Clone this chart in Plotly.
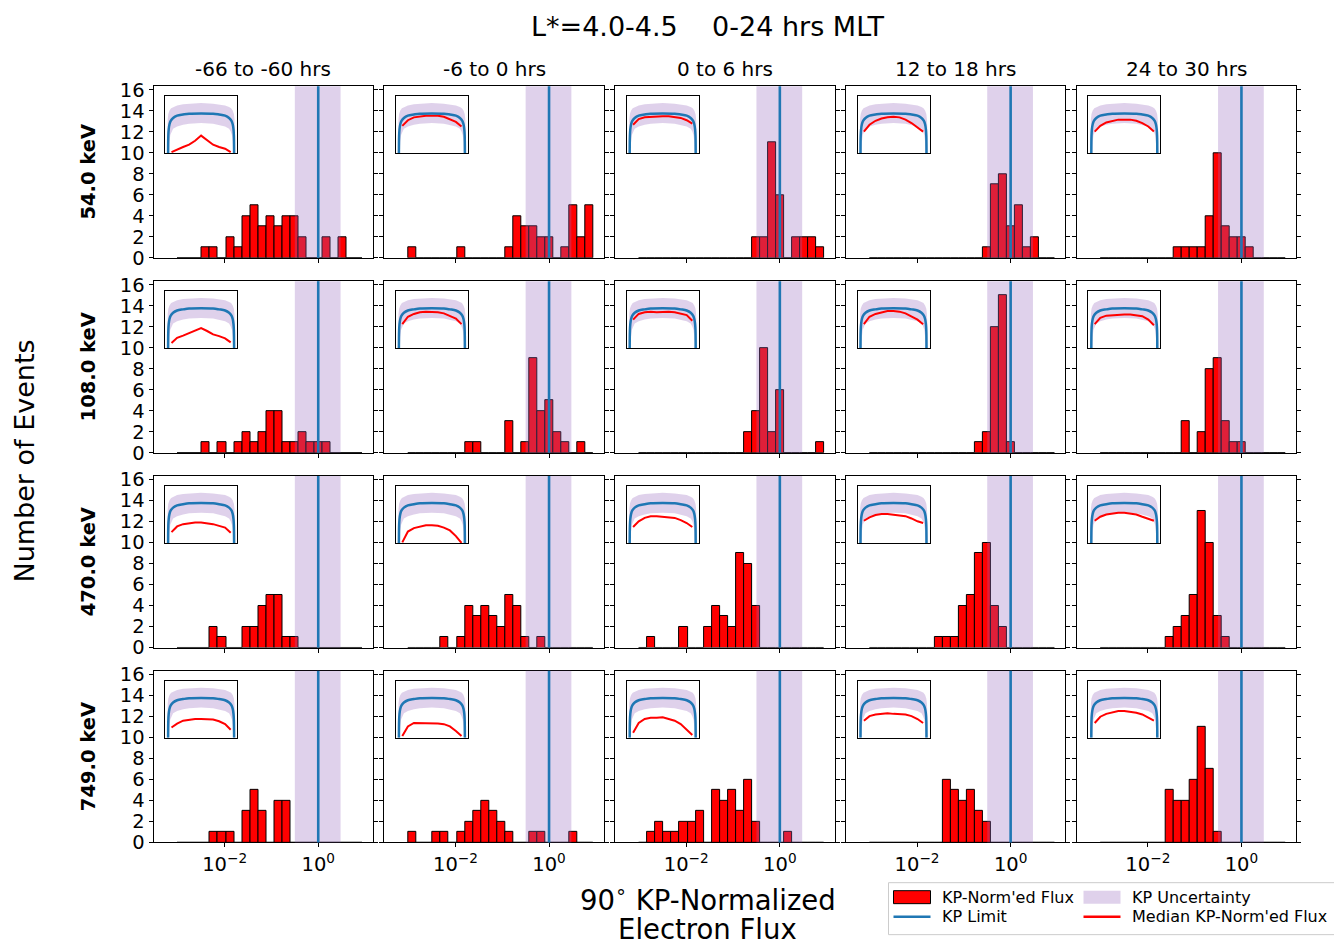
import numpy as np
import plotly.graph_objects as go

W, H = 1342, 943
FONT = "DejaVu Sans"

fig_title = "L*=4.0-4.5    0-24 hrs MLT"
col_titles = ["-66 to -60 hrs", "-6 to 0 hrs", "0 to 6 hrs", "12 to 18 hrs", "24 to 30 hrs"]
row_labels = ["54.0 keV", "108.0 keV", "470.0 keV", "749.0 keV"]
y_label = "Number of Events"
x_label_lines = ["90<sup>∘</sup> KP-Normalized", "Electron Flux"]
legend_labels = ["KP-Norm'ed Flux", "KP Limit", "KP Uncertainty", "Median KP-Norm'ed Flux"]

# histogram bins of KP-normalized flux
flux_bin_edges = np.logspace(-3.0, 0.947, 24)

kp_limit = 1.0
kp_unc_lo = 0.316
kp_unc_hi = 3.0

x_tick_vals = [0.01, 1.0]
x_tick_text = ["10<sup>−2</sup>", "10<sup>0</sup>"]
y_tick_vals = [0, 2, 4, 6, 8, 10, 12, 14, 16]

counts_54keV = [
    [0, 0, 0, 1, 1, 0, 2, 1, 4, 5, 3, 4, 3, 4, 4, 2, 0, 0, 2, 0, 2, 0, 0],
    [1, 0, 0, 0, 0, 0, 1, 0, 0, 0, 0, 0, 1, 4, 3, 3, 2, 2, 0, 1, 5, 2, 5],
    [0, 0, 0, 0, 0, 0, 0, 0, 0, 0, 0, 0, 0, 0, 2, 2, 11, 6, 0, 2, 2, 2, 1],
    [0, 0, 0, 0, 0, 0, 0, 0, 0, 0, 0, 0, 0, 0, 1, 7, 8, 3, 5, 1, 2, 0, 0],
    [0, 0, 0, 0, 0, 0, 0, 0, 0, 1, 1, 1, 1, 4, 10, 3, 2, 2, 1, 0, 0, 0, 0],
]
counts_108keV = [
    [0, 0, 0, 1, 0, 1, 0, 1, 2, 1, 2, 4, 4, 1, 1, 2, 1, 1, 1, 0, 0, 0, 0],
    [0, 0, 0, 0, 0, 0, 0, 1, 1, 0, 0, 0, 3, 0, 1, 9, 4, 5, 2, 1, 0, 1, 0],
    [0, 0, 0, 0, 0, 0, 0, 0, 0, 0, 0, 0, 0, 2, 4, 10, 2, 6, 0, 0, 0, 0, 1],
    [0, 0, 0, 0, 0, 0, 0, 0, 0, 0, 0, 0, 0, 1, 2, 12, 15, 1, 0, 0, 0, 0, 0],
    [0, 0, 0, 0, 0, 0, 0, 0, 0, 0, 3, 0, 2, 8, 9, 3, 1, 1, 0, 0, 0, 0, 0],
]
counts_470keV = [
    [0, 0, 0, 0, 2, 1, 0, 0, 2, 2, 4, 5, 5, 1, 1, 0, 0, 0, 0, 0, 0, 0, 0],
    [0, 0, 0, 0, 1, 0, 1, 4, 3, 4, 3, 2, 5, 4, 1, 0, 1, 0, 0, 0, 0, 0, 0],
    [0, 1, 0, 0, 0, 2, 0, 0, 2, 4, 3, 2, 9, 8, 4, 0, 0, 0, 0, 0, 0, 0, 0],
    [0, 0, 0, 0, 0, 0, 0, 0, 1, 1, 1, 4, 5, 9, 10, 4, 2, 0, 0, 0, 0, 0, 0],
    [0, 0, 0, 0, 0, 0, 0, 0, 1, 2, 3, 5, 13, 10, 3, 1, 0, 0, 0, 0, 0, 0, 0],
]
counts_749keV = [
    [0, 0, 0, 0, 1, 1, 1, 0, 3, 5, 3, 0, 4, 4, 0, 0, 0, 0, 0, 0, 0, 0, 0],
    [1, 0, 0, 1, 1, 0, 1, 2, 3, 4, 3, 2, 1, 0, 0, 1, 1, 0, 0, 0, 1, 0, 0],
    [0, 1, 2, 1, 1, 2, 2, 3, 0, 5, 4, 5, 3, 6, 2, 0, 0, 0, 1, 0, 0, 0, 0],
    [0, 0, 0, 0, 0, 0, 0, 0, 0, 6, 5, 4, 5, 3, 2, 0, 0, 0, 0, 0, 0, 0, 0],
    [0, 0, 0, 0, 0, 0, 0, 0, 5, 4, 4, 6, 11, 7, 1, 0, 0, 0, 0, 0, 0, 0, 0],
]

# inset: pitch-angle distributions (normalized log flux, 0 = inset floor, 1 = inset top)
kp_pa = [7.5, 8, 9, 11, 14, 20, 30, 45, 60, 90, 120, 135, 150, 160, 166, 169, 171, 172, 172.5]
kp_shape = [0.0, 0.30, 0.42, 0.51, 0.57, 0.62, 0.66, 0.68, 0.695, 0.70, 0.695, 0.68, 0.66, 0.62, 0.57, 0.51, 0.42, 0.30, 0.0]
kp_upper_pa = [5, 5.5, 6.5, 8, 11, 15, 20, 30, 45, 60, 90, 120, 135, 150, 160, 165, 169, 172, 173.5, 174.5, 175]
kp_upper = [0.0, 0.45, 0.60, 0.69, 0.75, 0.79, 0.81, 0.84, 0.86, 0.87, 0.88, 0.87, 0.86, 0.84, 0.81, 0.79, 0.75, 0.69, 0.60, 0.45, 0.0]
kp_lower_pa = [10, 11, 13, 16, 20, 30, 45, 60, 90, 120, 135, 150, 160, 164, 167, 169, 170]
kp_lower = [0.0, 0.20, 0.32, 0.38, 0.43, 0.47, 0.50, 0.52, 0.53, 0.52, 0.50, 0.47, 0.43, 0.38, 0.32, 0.20, 0.0]

med_pa = [16, 30, 45, 60, 75, 90, 105, 120, 135, 150, 164]
median_54keV = [
    [0.02, 0.07, 0.11, 0.15, 0.22, 0.31, 0.23, 0.15, 0.11, 0.08, 0.02],
    [0.48, 0.58, 0.63, 0.65, 0.66, 0.66, 0.66, 0.64, 0.60, 0.55, 0.47],
    [0.50, 0.60, 0.63, 0.64, 0.65, 0.65, 0.65, 0.64, 0.62, 0.58, 0.52],
    [0.38, 0.50, 0.57, 0.61, 0.63, 0.64, 0.63, 0.59, 0.53, 0.46, 0.38],
    [0.38, 0.48, 0.54, 0.57, 0.59, 0.59, 0.59, 0.57, 0.53, 0.47, 0.38],
]
median_108keV = [
    [0.09, 0.18, 0.22, 0.26, 0.30, 0.35, 0.30, 0.24, 0.21, 0.17, 0.10],
    [0.42, 0.55, 0.60, 0.63, 0.64, 0.64, 0.63, 0.61, 0.57, 0.52, 0.42],
    [0.50, 0.60, 0.63, 0.64, 0.63, 0.64, 0.64, 0.63, 0.61, 0.58, 0.48],
    [0.42, 0.55, 0.60, 0.63, 0.65, 0.65, 0.64, 0.61, 0.56, 0.50, 0.42],
    [0.42, 0.53, 0.57, 0.58, 0.59, 0.59, 0.59, 0.58, 0.56, 0.50, 0.40],
]
median_470keV = [
    [0.19, 0.29, 0.33, 0.35, 0.36, 0.36, 0.35, 0.33, 0.30, 0.27, 0.18],
    [0.01, 0.20, 0.26, 0.29, 0.31, 0.31, 0.30, 0.27, 0.22, 0.12, 0.00],
    [0.28, 0.38, 0.44, 0.47, 0.47, 0.46, 0.46, 0.44, 0.40, 0.35, 0.28],
    [0.39, 0.45, 0.49, 0.51, 0.51, 0.50, 0.49, 0.47, 0.43, 0.38, 0.35],
    [0.39, 0.46, 0.50, 0.52, 0.53, 0.53, 0.52, 0.50, 0.46, 0.42, 0.39],
]
median_749keV = [
    [0.18, 0.25, 0.30, 0.32, 0.33, 0.33, 0.33, 0.32, 0.29, 0.24, 0.14],
    [0.03, 0.20, 0.26, 0.26, 0.25, 0.26, 0.25, 0.24, 0.20, 0.12, 0.03],
    [0.09, 0.26, 0.33, 0.35, 0.35, 0.36, 0.33, 0.30, 0.24, 0.15, 0.05],
    [0.30, 0.38, 0.41, 0.42, 0.43, 0.42, 0.42, 0.41, 0.38, 0.33, 0.26],
    [0.26, 0.37, 0.42, 0.45, 0.47, 0.47, 0.46, 0.44, 0.41, 0.36, 0.30],
]

all_counts = [counts_54keV, counts_108keV, counts_470keV, counts_749keV]
all_medians = [median_54keV, median_108keV, median_470keV, median_749keV]

RED = "#ff0000"
BLUE = "#1f77b4"
PURPLE_A = "rgba(148,103,189,0.3)"

log_edges = np.log10(flux_bin_edges)
centers = (log_edges[:-1] + log_edges[1:]) / 2
widths = np.diff(log_edges)

fig = go.Figure()
layout = dict(
    width=W, height=H, margin=dict(l=0, r=0, t=0, b=0, pad=0), autosize=False,
    paper_bgcolor="white", plot_bgcolor="white", showlegend=False,
    font=dict(family=FONT, color="black"), bargap=0,
)

# page placement calibration (target-pixel -> paper fraction)
X_OFF = 7.5
Y_OFF = 13.65
Y_SCALE = 0.9806


def px_x(p):
    return (p - X_OFF) / W


def px_y(p):
    return 1 - ((p - Y_OFF) / Y_SCALE) / H


ax_w, ax_h = 219.5, 171.7
in_dx, in_dy, in_w, in_h = 11.6, 10.0, 72.0, 57.0
x_range = [-3.52, 1.17]
y_range = [0, 16.35]
TICKFONT = dict(family=FONT, size=19.5, color="black")

shapes = []
annotations = []

for r in range(4):
    for c in range(5):
        n = r * 5 + c + 1
        m = n + 20
        xr, yr = ("x" if n == 1 else f"x{n}"), ("y" if n == 1 else f"y{n}")
        xri, yri = f"x{m}", f"y{m}"
        left = 153.0 + 230.8 * c
        top = 85.0 + 195.0 * r

        layout["xaxis" if n == 1 else f"xaxis{n}"] = dict(
            domain=[px_x(left), px_x(left + ax_w)], range=x_range, anchor=yr,
            showline=True, linecolor="black", linewidth=1, mirror=True,
            ticks="outside", ticklen=4, tickwidth=1, tickcolor="black",
            tickvals=list(np.log10(x_tick_vals)), ticktext=x_tick_text,
            showticklabels=(r == 3), tickfont=TICKFONT,
            showgrid=False, zeroline=False, fixedrange=True,
        )
        layout["yaxis" if n == 1 else f"yaxis{n}"] = dict(
            domain=[px_y(top + ax_h), px_y(top)], range=y_range, anchor=xr,
            showline=True, linecolor="black", linewidth=1, mirror="allticks",
            ticks="outside", ticklen=4, tickwidth=1, tickcolor="black",
            tickvals=y_tick_vals, showticklabels=(c == 0), tickfont=TICKFONT,
            showgrid=False, zeroline=False, fixedrange=True,
        )
        layout[f"xaxis{m}"] = dict(
            domain=[px_x(left + in_dx), px_x(left + in_dx + in_w)], range=[0, 180], anchor=yri,
            showline=True, linecolor="black", linewidth=1, mirror=True,
            ticks="", showticklabels=False, showgrid=False, zeroline=False,
        )
        layout[f"yaxis{m}"] = dict(
            domain=[px_y(top + in_dy + in_h), px_y(top + in_dy)], range=[0, 1], anchor=xri,
            showline=True, linecolor="black", linewidth=1, mirror=True,
            ticks="", showticklabels=False, showgrid=False, zeroline=False,
        )

        fig.add_trace(go.Bar(
            x=centers, y=all_counts[r][c], width=widths,
            marker=dict(color=RED, line=dict(color="black", width=1)),
            xaxis=xr, yaxis=yr,
        ))

        shapes.append(dict(type="rect", xref=xr, yref=f"{yr} domain",
                           x0=np.log10(kp_unc_lo), x1=np.log10(kp_unc_hi), y0=0, y1=1,
                           fillcolor=PURPLE_A, line=dict(width=0), layer="above"))
        shapes.append(dict(type="line", xref=xr, yref=f"{yr} domain",
                           x0=np.log10(kp_limit), x1=np.log10(kp_limit), y0=0, y1=1,
                           line=dict(color=BLUE, width=2.6), layer="above"))

        # inset
        fig.add_trace(go.Scatter(
            x=kp_upper_pa + kp_lower_pa[::-1], y=kp_upper + kp_lower[::-1],
            mode="lines", fill="toself", fillcolor=PURPLE_A, line=dict(width=0),
            xaxis=xri, yaxis=yri, hoverinfo="skip",
        ))
        fig.add_trace(go.Scatter(
            x=med_pa, y=all_medians[r][c], mode="lines",
            line=dict(color=RED, width=2), xaxis=xri, yaxis=yri,
        ))
        fig.add_trace(go.Scatter(
            x=kp_pa, y=kp_shape, mode="lines", line=dict(color=BLUE, width=2.5, shape="spline"),
            xaxis=xri, yaxis=yri,
        ))

        if r == 0:
            annotations.append(dict(text=col_titles[c], x=px_x(left + ax_w / 2), y=px_y(68),
                                    xref="paper", yref="paper", showarrow=False,
                                    xanchor="center", yanchor="middle",
                                    font=dict(family=FONT, size=20, color="black")))
    annotations.append(dict(text=f"<b>{row_labels[r]}</b>", x=px_x(88), y=px_y(85.0 + 195.0 * r + ax_h / 2),
                            xref="paper", yref="paper", showarrow=False, textangle=-90,
                            xanchor="center", yanchor="middle",
                            font=dict(family=FONT, size=19.5, color="black")))

annotations.append(dict(text=fig_title, x=px_x(707), y=px_y(25), xref="paper", yref="paper",
                        showarrow=False, xanchor="center", yanchor="middle",
                        font=dict(family=FONT, size=27, color="black")))
annotations.append(dict(text=y_label, x=px_x(24), y=px_y(460), xref="paper", yref="paper",
                        showarrow=False, textangle=-90, xanchor="center", yanchor="middle",
                        font=dict(family=FONT, size=27, color="black")))
for txt, ly in zip(x_label_lines, [897, 928]):
    annotations.append(dict(text=txt, x=px_x(707), y=px_y(ly), xref="paper", yref="paper",
                            showarrow=False, xanchor="center", yanchor="middle",
                            font=dict(family=FONT, size=27.5, color="black")))

# legend (built manually)
shapes.append(dict(type="rect", xref="paper", yref="paper",
                   x0=px_x(888), x1=px_x(1335), y0=px_y(934), y1=px_y(882),
                   line=dict(color="#cccccc", width=1), fillcolor="white", layer="above"))
shapes.append(dict(type="rect", xref="paper", yref="paper",
                   x0=px_x(893), x1=px_x(930), y0=px_y(903), y1=px_y(890),
                   line=dict(color="black", width=1), fillcolor=RED, layer="above"))
shapes.append(dict(type="rect", xref="paper", yref="paper",
                   x0=px_x(1083), x1=px_x(1120), y0=px_y(903), y1=px_y(890),
                   line=dict(width=0), fillcolor=PURPLE_A, layer="above"))
shapes.append(dict(type="line", xref="paper", yref="paper",
                   x0=px_x(893), x1=px_x(930), y0=px_y(916), y1=px_y(916),
                   line=dict(color=BLUE, width=2.5), layer="above"))
shapes.append(dict(type="line", xref="paper", yref="paper",
                   x0=px_x(1083), x1=px_x(1120), y0=px_y(916), y1=px_y(916),
                   line=dict(color=RED, width=2.5), layer="above"))
for txt, lx, ly in [(legend_labels[0], 940, 897), (legend_labels[1], 940, 916),
                    (legend_labels[2], 1129, 897), (legend_labels[3], 1129, 916)]:
    annotations.append(dict(text=txt, x=px_x(lx), y=px_y(ly), xref="paper", yref="paper",
                            showarrow=False, xanchor="left", yanchor="middle",
                            font=dict(family=FONT, size=16, color="black")))

layout["shapes"] = shapes
layout["annotations"] = annotations
fig.update_layout(**layout)
fig.write_html("out.html")
